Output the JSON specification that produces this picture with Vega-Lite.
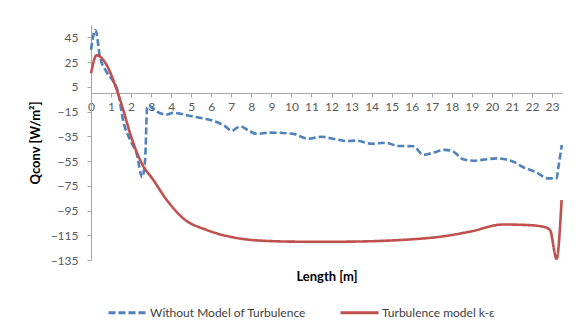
{
  "$schema": "https://vega.github.io/schema/vega-lite/v6.json",
  "autosize": {"type": "none"},
  "width": 471,
  "height": 235,
  "padding": {"left": 91, "top": 25, "right": 23, "bottom": 68},
  "background": "white",
  "config": {
    "view": {"stroke": null},
    "font": "Lato",
    "axis": {"labelFont": "Lato", "titleFont": "Lato", "labelColor": "#595959", "labelFontSize": 12, "domainColor": "#a6a6a6", "tickColor": "#a6a6a6", "grid": false, "tickSize": 4}
  },
  "data": {
    "values": [
      {"x": 0, "q": 35, "s": "Without Model of Turbulence"},
      {"x": 0.22, "q": 51, "s": "Without Model of Turbulence"},
      {"x": 0.45, "q": 29, "s": "Without Model of Turbulence"},
      {"x": 0.78, "q": 17, "s": "Without Model of Turbulence"},
      {"x": 1.05, "q": 11, "s": "Without Model of Turbulence"},
      {"x": 1.36, "q": 0, "s": "Without Model of Turbulence"},
      {"x": 1.6, "q": -22, "s": "Without Model of Turbulence"},
      {"x": 1.95, "q": -38, "s": "Without Model of Turbulence"},
      {"x": 2.28, "q": -49, "s": "Without Model of Turbulence"},
      {"x": 2.55, "q": -68, "s": "Without Model of Turbulence"},
      {"x": 2.7, "q": -54, "s": "Without Model of Turbulence"},
      {"x": 2.8, "q": -12, "s": "Without Model of Turbulence"},
      {"x": 2.88, "q": -10, "s": "Without Model of Turbulence"},
      {"x": 3.1, "q": -13, "s": "Without Model of Turbulence"},
      {"x": 3.77, "q": -17.5, "s": "Without Model of Turbulence"},
      {"x": 4.1, "q": -16, "s": "Without Model of Turbulence"},
      {"x": 4.94, "q": -18.5, "s": "Without Model of Turbulence"},
      {"x": 5.6, "q": -20.5, "s": "Without Model of Turbulence"},
      {"x": 6.2, "q": -23, "s": "Without Model of Turbulence"},
      {"x": 6.7, "q": -27, "s": "Without Model of Turbulence"},
      {"x": 7.02, "q": -30.5, "s": "Without Model of Turbulence"},
      {"x": 7.44, "q": -27, "s": "Without Model of Turbulence"},
      {"x": 7.93, "q": -31, "s": "Without Model of Turbulence"},
      {"x": 8.27, "q": -33, "s": "Without Model of Turbulence"},
      {"x": 8.93, "q": -32, "s": "Without Model of Turbulence"},
      {"x": 10.1, "q": -33, "s": "Without Model of Turbulence"},
      {"x": 10.43, "q": -35, "s": "Without Model of Turbulence"},
      {"x": 10.8, "q": -37, "s": "Without Model of Turbulence"},
      {"x": 11.5, "q": -35.3, "s": "Without Model of Turbulence"},
      {"x": 12.09, "q": -37, "s": "Without Model of Turbulence"},
      {"x": 12.76, "q": -38.8, "s": "Without Model of Turbulence"},
      {"x": 13.26, "q": -38.5, "s": "Without Model of Turbulence"},
      {"x": 14.0, "q": -41, "s": "Without Model of Turbulence"},
      {"x": 14.67, "q": -40.2, "s": "Without Model of Turbulence"},
      {"x": 15.33, "q": -42.8, "s": "Without Model of Turbulence"},
      {"x": 16.08, "q": -43, "s": "Without Model of Turbulence"},
      {"x": 16.58, "q": -50, "s": "Without Model of Turbulence"},
      {"x": 17.08, "q": -48.2, "s": "Without Model of Turbulence"},
      {"x": 17.66, "q": -46, "s": "Without Model of Turbulence"},
      {"x": 18.08, "q": -47.4, "s": "Without Model of Turbulence"},
      {"x": 18.57, "q": -53.6, "s": "Without Model of Turbulence"},
      {"x": 19.07, "q": -54.7, "s": "Without Model of Turbulence"},
      {"x": 19.74, "q": -53.6, "s": "Without Model of Turbulence"},
      {"x": 20.24, "q": -52.8, "s": "Without Model of Turbulence"},
      {"x": 21.07, "q": -55.5, "s": "Without Model of Turbulence"},
      {"x": 21.57, "q": -60, "s": "Without Model of Turbulence"},
      {"x": 22.16, "q": -63.6, "s": "Without Model of Turbulence"},
      {"x": 22.82, "q": -69, "s": "Without Model of Turbulence"},
      {"x": 23.23, "q": -69, "s": "Without Model of Turbulence"},
      {"x": 23.32, "q": -60, "s": "Without Model of Turbulence"},
      {"x": 23.49, "q": -42, "s": "Without Model of Turbulence"},
      {"x": 0, "q": 16, "s": "Turbulence model k-ε"},
      {"x": 0.28, "q": 30.5, "s": "Turbulence model k-ε"},
      {"x": 0.78, "q": 22.6, "s": "Turbulence model k-ε"},
      {"x": 1.2, "q": 6.5, "s": "Turbulence model k-ε"},
      {"x": 1.61, "q": -13.7, "s": "Turbulence model k-ε"},
      {"x": 1.95, "q": -32.6, "s": "Turbulence model k-ε"},
      {"x": 2.53, "q": -56.8, "s": "Turbulence model k-ε"},
      {"x": 3.11, "q": -70.3, "s": "Turbulence model k-ε"},
      {"x": 3.78, "q": -86.5, "s": "Turbulence model k-ε"},
      {"x": 4.6, "q": -101.3, "s": "Turbulence model k-ε"},
      {"x": 5.77, "q": -110.7, "s": "Turbulence model k-ε"},
      {"x": 7.1, "q": -116.7, "s": "Turbulence model k-ε"},
      {"x": 8.77, "q": -119.6, "s": "Turbulence model k-ε"},
      {"x": 10.5, "q": -120.2, "s": "Turbulence model k-ε"},
      {"x": 12.4, "q": -120.2, "s": "Turbulence model k-ε"},
      {"x": 14.4, "q": -119.6, "s": "Turbulence model k-ε"},
      {"x": 16.08, "q": -118.2, "s": "Turbulence model k-ε"},
      {"x": 17.42, "q": -116.2, "s": "Turbulence model k-ε"},
      {"x": 18.9, "q": -112.1, "s": "Turbulence model k-ε"},
      {"x": 20.57, "q": -106.3, "s": "Turbulence model k-ε"},
      {"x": 21.73, "q": -106.7, "s": "Turbulence model k-ε"},
      {"x": 22.56, "q": -108.1, "s": "Turbulence model k-ε"},
      {"x": 22.9, "q": -110.7, "s": "Turbulence model k-ε"},
      {"x": 23.23, "q": -134, "s": "Turbulence model k-ε"},
      {"x": 23.48, "q": -86.5, "s": "Turbulence model k-ε"}
    ]
  },
  "mark": {"type": "line", "interpolate": "monotone", "strokeWidth": 2.6, "clip": false},
  "encoding": {
    "x": {
      "field": "x", "type": "quantitative",
      "scale": {"domain": [0, 23.5], "nice": false, "zero": false},
      "axis": {
        "orient": "bottom", "offset": -167,
        "values": [0,1,2,3,4,5,6,7,8,9,10,11,12,13,14,15,16,17,18,19,20,21,22,23],
        "format": "d", "labelFlush": false, "labelPadding": 4,
        "title": "Length [m]", "titleFontSize": 13, "titleFontWeight": "bold", "titleColor": "#000000",
        "titleY": 177, "titleBaseline": "top"
      }
    },
    "y": {
      "field": "q", "type": "quantitative",
      "scale": {"domain": [-135, 55], "nice": false, "zero": false},
      "axis": {
        "values": [45, 25, 5, -15, -35, -55, -75, -95, -115, -135],
        "labelPadding": 9,
        "title": "Qconv [W/m²]", "titleFontSize": 13, "titleFontWeight": "bold", "titleColor": "#000000",
        "titlePadding": 8
      }
    },
    "color": {
      "field": "s", "type": "nominal",
      "scale": {"domain": ["Without Model of Turbulence", "Turbulence model k-ε"], "range": ["#4F81BD", "#C0504D"]},
      "legend": {
        "title": null, "orient": "none", "direction": "horizontal", "columns": 2,
        "legendX": 16, "legendY": 267, "padding": 0,
        "symbolType": "stroke", "symbolSize": 1444, "symbolStrokeWidth": 3,
        "labelFont": "Lato", "labelFontSize": 12, "labelColor": "#404040", "labelOffset": 2,
        "columnPadding": 28
      }
    },
    "strokeDash": {
      "field": "s", "type": "nominal",
      "scale": {"domain": ["Without Model of Turbulence", "Turbulence model k-ε"], "range": [[7, 3], [1, 0]]},
      "legend": null
    }
  }
}
